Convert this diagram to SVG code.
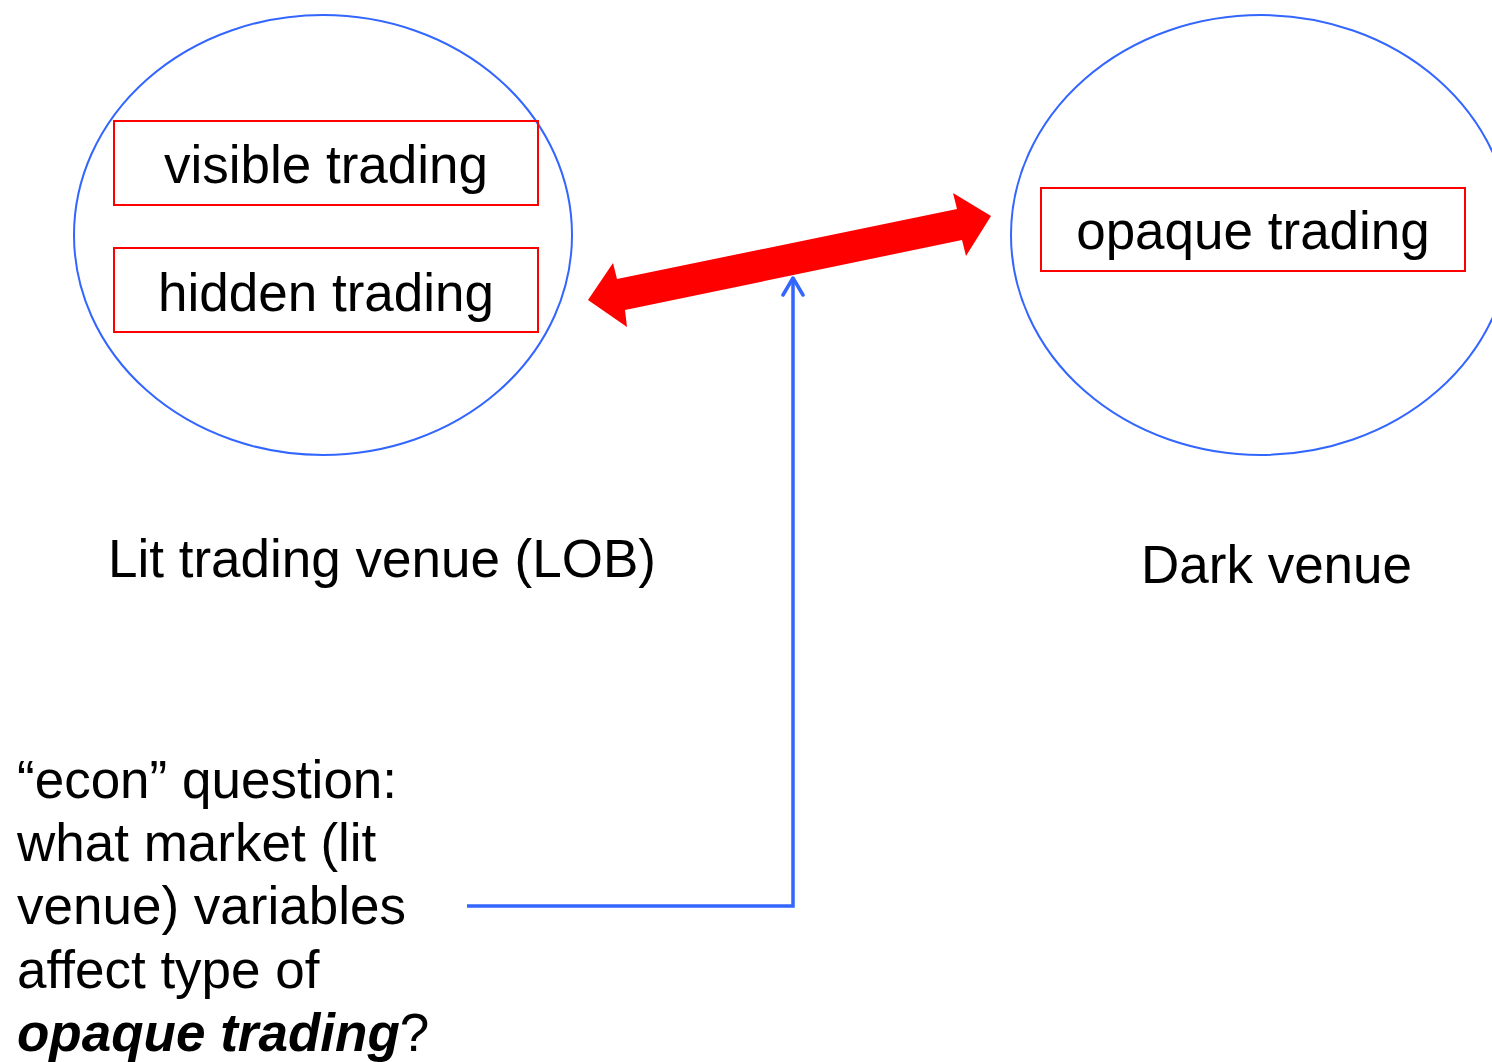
<svg xmlns="http://www.w3.org/2000/svg" width="1492" height="1062" viewBox="0 0 1492 1062">
<defs>
<style>
.t{font-family:"Liberation Sans",Arial,sans-serif;font-size:53px;fill:#000}
.ell{fill:none;stroke:#3366ff;stroke-width:2}
.box{fill:none;stroke:#ff0000;stroke-width:2}
.conn{fill:none;stroke:#3366ff;stroke-width:3.5}
</style>
<marker id="open" viewBox="-12 -4 24 24" refX="0" refY="0" markerWidth="24" markerHeight="24" markerUnits="userSpaceOnUse" orient="0">
<polyline points="-10,17 0,0 10,17" fill="none" stroke="#3366ff" stroke-width="3.5" stroke-linecap="round" stroke-linejoin="round"/>
</marker>
</defs>
<rect width="1492" height="1062" fill="#fff"/>
<g id="lit-venue">
<ellipse class="ell" cx="323" cy="235" rx="249" ry="220"/>
<text class="t" x="108" y="577">Lit trading venue (LOB)</text>
</g>
<g id="visible-trading">
<rect class="box" x="114" y="121" width="424" height="84"/>
<text class="t" x="326" y="183" text-anchor="middle">visible trading</text>
</g>
<g id="hidden-trading">
<rect class="box" x="114" y="248" width="424" height="84"/>
<text class="t" x="326" y="311" text-anchor="middle">hidden trading</text>
</g>
<g id="dark-venue">
<ellipse class="ell" cx="1261" cy="235" rx="250" ry="220"/>
<text class="t" x="1141" y="583">Dark venue</text>
</g>
<g id="opaque-trading">
<rect class="box" x="1041" y="188" width="424" height="83"/>
<text class="t" x="1253" y="249" text-anchor="middle">opaque trading</text>
</g>
<g id="question">
<text class="t" x="17" y="798">“econ” question:</text>
<text class="t" x="17" y="861">what market (lit</text>
<text class="t" x="17" y="924">venue) variables</text>
<text class="t" x="17" y="988">affect type of</text>
<text class="t" x="17" y="1051"><tspan font-weight="bold" font-style="italic">opaque trading</tspan>?</text>
</g>
<g id="connectors">
<polygon fill="#ff0000" points="588,300 613,263 617,279 957,209 953,193 991,216 966,256 962,240 625,310 627,327"/>
<polyline class="conn" points="467,906 793,906 793,278" marker-end="url(#open)"/>
</g>
</svg>
